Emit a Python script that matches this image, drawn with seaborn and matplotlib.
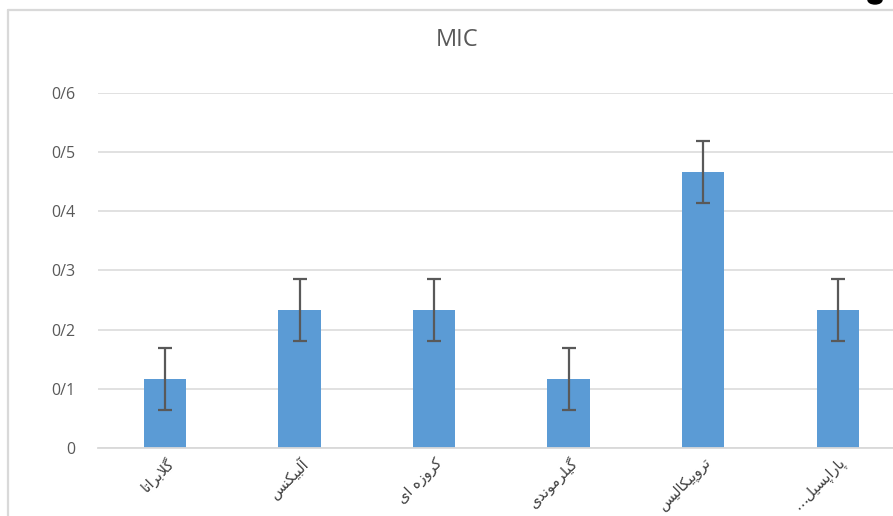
import numpy as np
import pandas as pd
import matplotlib
matplotlib.use("Agg")
import matplotlib.pyplot as plt
from matplotlib.lines import Line2D
from matplotlib.patches import Ellipse
from matplotlib.ticker import FuncFormatter
import seaborn as sb

# data
species = ["گلابراتا", "آلبیکنس", "کروزه ای", "گیلرموندی", "تروپیکالیس", "پاراپسیل…"]
mic = [0.1167, 0.2333, 0.2333, 0.1167, 0.4667, 0.2333]
mic_err = [0.052, 0.052, 0.052, 0.052, 0.052, 0.052]

# matplotlib has no arabic shaping, so map letters to presentation forms by hand
# (isolated, final, initial, medial); two entries means right-joining only
forms = {
    "ا": ("\uFE8D", "\uFE8E"),
    "آ": ("\uFE81", "\uFE82"),
    "ب": ("\uFE8F", "\uFE90", "\uFE91", "\uFE92"),
    "پ": ("\uFB56", "\uFB57", "\uFB58", "\uFB59"),
    "ت": ("\uFE95", "\uFE96", "\uFE97", "\uFE98"),
    "د": ("\uFEA9", "\uFEAA"),
    "ر": ("\uFEAD", "\uFEAE"),
    "ز": ("\uFEAF", "\uFEB0"),
    "س": ("\uFEB1", "\uFEB2", "\uFEB3", "\uFEB4"),
    "ک": ("\uFB8E", "\uFB8F", "\uFB90", "\uFB91"),
    "گ": ("\uFB92", "\uFB93", "\uFB94", "\uFB95"),
    "ل": ("\uFEDD", "\uFEDE", "\uFEDF", "\uFEE0"),
    "م": ("\uFEE1", "\uFEE2", "\uFEE3", "\uFEE4"),
    "ن": ("\uFEE5", "\uFEE6", "\uFEE7", "\uFEE8"),
    "ه": ("\uFEE9", "\uFEEA", "\uFEEB", "\uFEEC"),
    "و": ("\uFEED", "\uFEEE"),
    "ی": ("\uFBFC", "\uFBFD", "\uFBFE", "\uFBFF"),
}
lam_alef = {"ا": ("\uFEFB", "\uFEFC"), "آ": ("\uFEF5", "\uFEF6")}


def shape(word):
  chars = list(word)
  out = []
  i = 0
  while i < len(chars):
    c = chars[i]
    prev = chars[i - 1] if i > 0 else None
    joins_prev = prev in forms and len(forms[prev]) == 4 and c in forms
    if c == "ل" and i + 1 < len(chars) and chars[i + 1] in lam_alef:
      out.append(lam_alef[chars[i + 1]][1 if joins_prev else 0])
      i += 2
      continue
    if c not in forms:
      out.append(c)
      i += 1
      continue
    nxt = chars[i + 1] if i + 1 < len(chars) else None
    joins_next = len(forms[c]) == 4 and nxt in forms
    if joins_prev and joins_next:
      out.append(forms[c][3])
    elif joins_prev:
      out.append(forms[c][1])
    elif joins_next:
      out.append(forms[c][2])
    else:
      out.append(forms[c][0])
    i += 1
  return "".join(out[::-1])


df = pd.DataFrame({"species": species, "mic": mic, "err": mic_err})

sb.set_theme(style="white")
plt.rcParams["font.family"] = ["Open Sans", "DejaVu Sans"]

fig = plt.figure(figsize=(8.93, 5.16), dpi=100)
ax = fig.add_axes([0.1094, 0.1318, 0.904, 0.688])

sb.barplot(data=df, x="species", y="mic", ax=ax, color="#5b9bd5",
           saturation=1, width=0.315, errorbar=None, linewidth=0)
ax.errorbar(np.arange(len(df)), df["mic"], yerr=df["err"], fmt="none",
            ecolor="#595959", elinewidth=1.6, capsize=5, capthick=1.6)

ax.set_ylim(0, 0.6)
ax.set_xlim(-0.5, len(df) - 0.5)
ax.set_yticks(np.arange(0, 0.61, 0.1))
ax.yaxis.set_major_formatter(FuncFormatter(
    lambda v, p: "0" if abs(v) < 1e-9 else ("%.1f" % v).replace(".", "/")))
ax.grid(axis="y", color="#d9d9d9", lw=1.1)
ax.set_axisbelow(True)
for s in ["top", "left", "right"]:
  ax.spines[s].set_visible(False)
ax.spines["bottom"].set_color("#d9d9d9")
ax.spines["bottom"].set_linewidth(1.3)
ax.tick_params(axis="both", length=0, colors="#595959", labelsize=11.5)
ax.tick_params(axis="y", pad=16)
ax.set_xticks(np.arange(len(df)))
ax.set_xticklabels([shape(s) for s in species], rotation=45, ha="right",
                   va="top", rotation_mode="anchor", family="DejaVu Sans",
                   fontsize=10.5, color="#404040")
ax.tick_params(axis="x", pad=5)
ax.set_xlabel("")
ax.set_ylabel("")

fig.text(0.512, 0.922, "MIC", ha="center", va="center", fontsize=17,
         color="#595959")

# chart frame, cut by the screenshot on the right and bottom
fig.add_artist(Line2D([8 / 893, 8 / 893], [0, 1 - 10 / 516],
                      transform=fig.transFigure, color="#d9d9d9", lw=1.6))
fig.add_artist(Line2D([8 / 893, 1], [1 - 10 / 516, 1 - 10 / 516],
                      transform=fig.transFigure, color="#d9d9d9", lw=1.6))
fig.add_artist(Ellipse((875 / 893, 1.0), 14 / 893, 8 / 516,
                       transform=fig.transFigure, color="black"))

fig.savefig("out.png", dpi=100)
